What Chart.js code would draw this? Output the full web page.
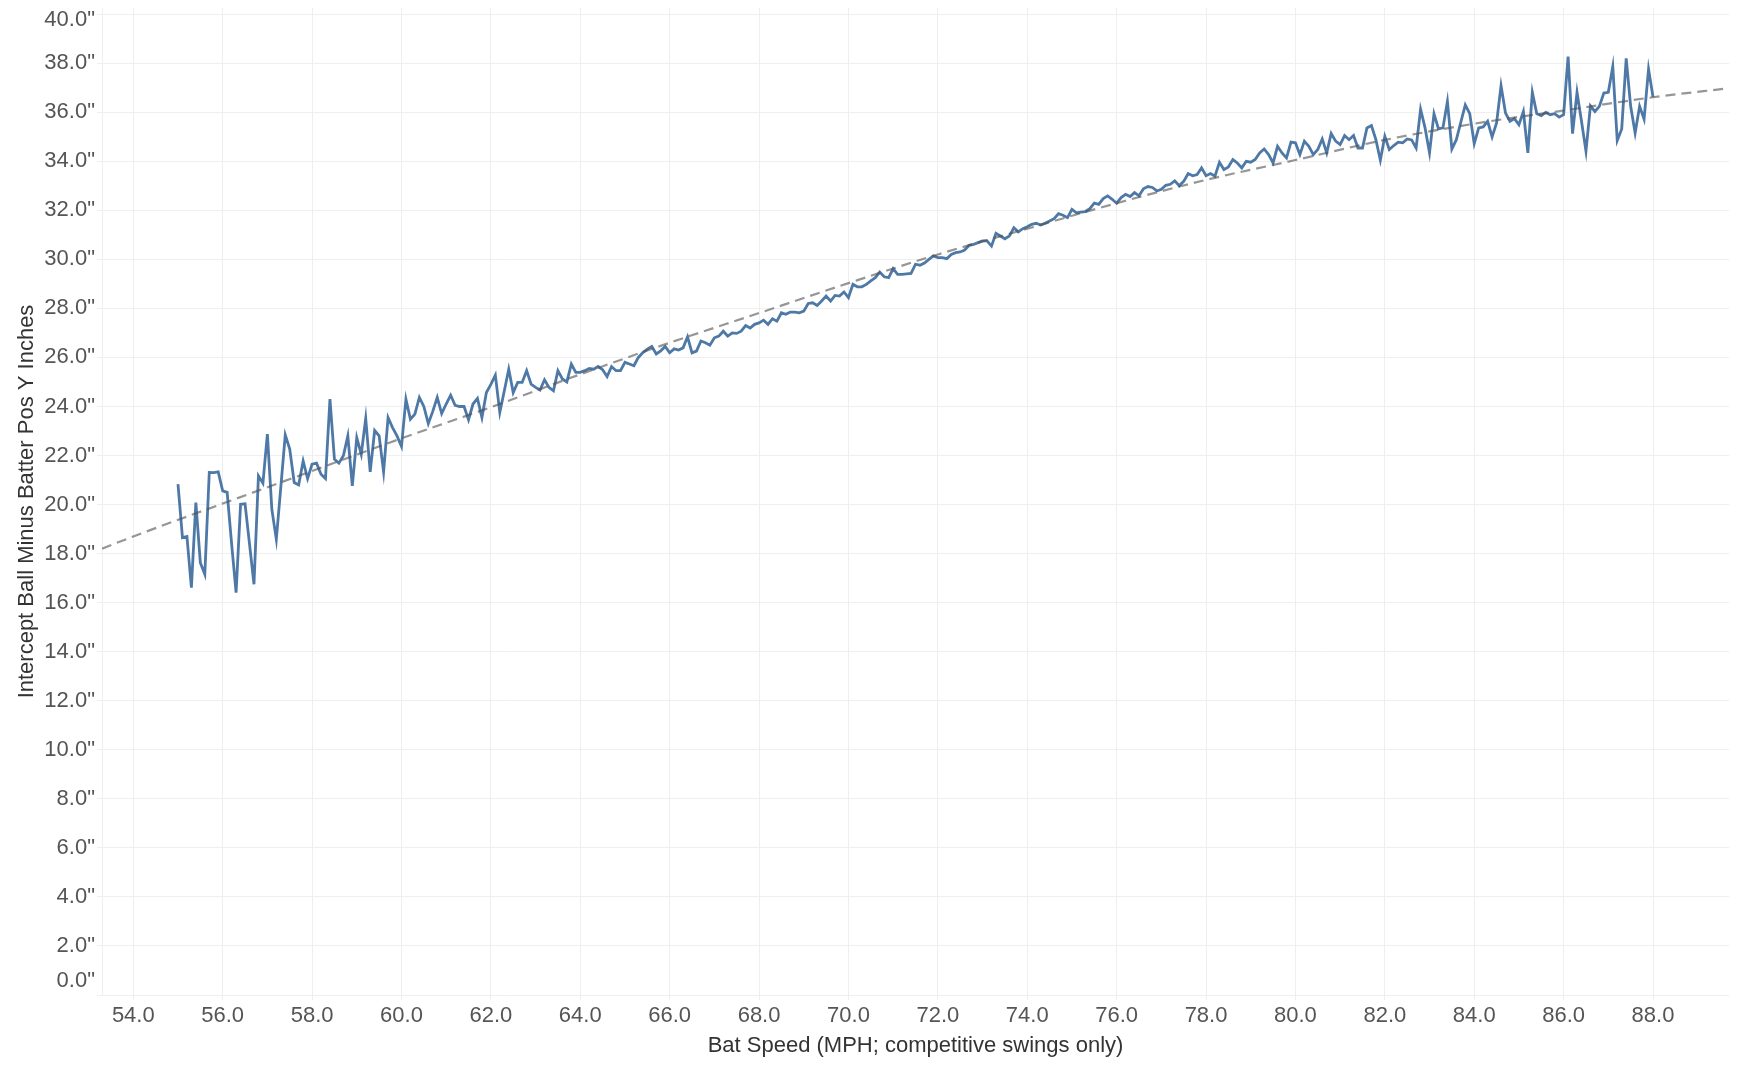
<!DOCTYPE html>
<html lang="en">
<head>
<meta charset="utf-8">
<title>Intercept Y by Bat Speed</title>
<script src="https://cdn.jsdelivr.net/npm/chart.js@4.4.1/dist/chart.umd.min.js"></script>
<style>
    html, body { margin: 0; padding: 0; background: #ffffff; }
    #chart-wrap { width: 1737px; height: 1068px; }
</style>
</head>
<body>
<div id="chart-wrap"><canvas id="intercept-chart" width="1737" height="1068"></canvas></div>
<script>
// Bat speed bins (MPH), one per 0.1 mph
const batSpeed = [
    55.0, 55.1, 55.2, 55.3, 55.4, 55.5, 55.6, 55.7, 55.8, 55.9,
    56.0, 56.1, 56.2, 56.3, 56.4, 56.5, 56.6, 56.7, 56.8, 56.9,
    57.0, 57.1, 57.2, 57.3, 57.4, 57.5, 57.6, 57.7, 57.8, 57.9,
    58.0, 58.1, 58.2, 58.3, 58.4, 58.5, 58.6, 58.7, 58.8, 58.9,
    59.0, 59.1, 59.2, 59.3, 59.4, 59.5, 59.6, 59.7, 59.8, 59.9,
    60.0, 60.1, 60.2, 60.3, 60.4, 60.5, 60.6, 60.7, 60.8, 60.9,
    61.0, 61.1, 61.2, 61.3, 61.4, 61.5, 61.6, 61.7, 61.8, 61.9,
    62.0, 62.1, 62.2, 62.3, 62.4, 62.5, 62.6, 62.7, 62.8, 62.9,
    63.0, 63.1, 63.2, 63.3, 63.4, 63.5, 63.6, 63.7, 63.8, 63.9,
    64.0, 64.1, 64.2, 64.3, 64.4, 64.5, 64.6, 64.7, 64.8, 64.9,
    65.0, 65.1, 65.2, 65.3, 65.4, 65.5, 65.6, 65.7, 65.8, 65.9,
    66.0, 66.1, 66.2, 66.3, 66.4, 66.5, 66.6, 66.7, 66.8, 66.9,
    67.0, 67.1, 67.2, 67.3, 67.4, 67.5, 67.6, 67.7, 67.8, 67.9,
    68.0, 68.1, 68.2, 68.3, 68.4, 68.5, 68.6, 68.7, 68.8, 68.9,
    69.0, 69.1, 69.2, 69.3, 69.4, 69.5, 69.6, 69.7, 69.8, 69.9,
    70.0, 70.1, 70.2, 70.3, 70.4, 70.5, 70.6, 70.7, 70.8, 70.9,
    71.0, 71.1, 71.2, 71.3, 71.4, 71.5, 71.6, 71.7, 71.8, 71.9,
    72.0, 72.1, 72.2, 72.3, 72.4, 72.5, 72.6, 72.7, 72.8, 72.9,
    73.0, 73.1, 73.2, 73.3, 73.4, 73.5, 73.6, 73.7, 73.8, 73.9,
    74.0, 74.1, 74.2, 74.3, 74.4, 74.5, 74.6, 74.7, 74.8, 74.9,
    75.0, 75.1, 75.2, 75.3, 75.4, 75.5, 75.6, 75.7, 75.8, 75.9,
    76.0, 76.1, 76.2, 76.3, 76.4, 76.5, 76.6, 76.7, 76.8, 76.9,
    77.0, 77.1, 77.2, 77.3, 77.4, 77.5, 77.6, 77.7, 77.8, 77.9,
    78.0, 78.1, 78.2, 78.3, 78.4, 78.5, 78.6, 78.7, 78.8, 78.9,
    79.0, 79.1, 79.2, 79.3, 79.4, 79.5, 79.6, 79.7, 79.8, 79.9,
    80.0, 80.1, 80.2, 80.3, 80.4, 80.5, 80.6, 80.7, 80.8, 80.9,
    81.0, 81.1, 81.2, 81.3, 81.4, 81.5, 81.6, 81.7, 81.8, 81.9,
    82.0, 82.1, 82.2, 82.3, 82.4, 82.5, 82.6, 82.7, 82.8, 82.9,
    83.0, 83.1, 83.2, 83.3, 83.4, 83.5, 83.6, 83.7, 83.8, 83.9,
    84.0, 84.1, 84.2, 84.3, 84.4, 84.5, 84.6, 84.7, 84.8, 84.9,
    85.0, 85.1, 85.2, 85.3, 85.4, 85.5, 85.6, 85.7, 85.8, 85.9,
    86.0, 86.1, 86.2, 86.3, 86.4, 86.5, 86.6, 86.7, 86.8, 86.9,
    87.0, 87.1, 87.2, 87.3, 87.4, 87.5, 87.6, 87.7, 87.8, 87.9,
    88.0
];

// Average intercept (ball minus batter pos Y, inches) per bin
const interceptY = [
    20.83, 18.65, 18.7, 16.61, 20.08, 17.63, 17.16, 21.31, 21.3, 21.33,
    20.56, 20.5, 18.4, 16.41, 20.01, 20.03, 18.4, 16.75, 21.17, 20.87,
    22.87, 19.8, 18.58, 20.7, 22.84, 22.26, 20.9, 20.8, 21.78, 21.06,
    21.65, 21.69, 21.24, 21.06, 24.3, 21.85, 21.69, 21.99, 22.8, 20.76,
    22.73, 22.05, 23.51, 21.33, 23.02, 22.8, 21.33, 23.55, 23.14, 22.8,
    22.37, 24.3, 23.48, 23.69, 24.37, 24.0, 23.3, 23.8, 24.37, 23.71,
    24.1, 24.46, 24.05, 24.0, 24.0, 23.46, 24.1, 24.33, 23.55, 24.57,
    24.9, 25.28, 23.76, 24.63, 25.52, 24.57, 24.98, 24.98, 25.46, 24.91,
    24.78, 24.67, 25.09, 24.78, 24.64, 25.46, 25.12, 25.0, 25.73, 25.39,
    25.39, 25.46, 25.55, 25.52, 25.63, 25.5, 25.22, 25.63, 25.46, 25.46,
    25.8, 25.73, 25.66, 26.0, 26.2, 26.34, 26.45, 26.14, 26.27, 26.45,
    26.19, 26.35, 26.3, 26.39, 26.84, 26.19, 26.26, 26.67, 26.6, 26.5,
    26.8, 26.87, 27.07, 26.87, 27.0, 26.98, 27.07, 27.3, 27.2, 27.35,
    27.41, 27.52, 27.35, 27.58, 27.48, 27.82, 27.76, 27.85, 27.85, 27.82,
    27.89, 28.2, 28.23, 28.12, 28.3, 28.5, 28.3, 28.53, 28.5, 28.67,
    28.44, 28.98, 28.88, 28.88, 28.98, 29.12, 29.25, 29.48, 29.29, 29.25,
    29.62, 29.39, 29.39, 29.41, 29.43, 29.8, 29.76, 29.85, 30.0, 30.14,
    30.07, 30.07, 30.03, 30.2, 30.27, 30.3, 30.38, 30.57, 30.61, 30.68,
    30.75, 30.75, 30.54, 31.06, 30.95, 30.84, 30.95, 31.29, 31.12, 31.25,
    31.33, 31.43, 31.47, 31.4, 31.47, 31.56, 31.66, 31.86, 31.8, 31.7,
    32.04, 31.9, 31.93, 31.95, 32.07, 32.29, 32.24, 32.48, 32.59, 32.45,
    32.29, 32.52, 32.65, 32.56, 32.72, 32.59, 32.88, 32.97, 32.93, 32.79,
    32.86, 33.02, 33.06, 33.2, 33.0, 33.18, 33.5, 33.41, 33.46, 33.73,
    33.41, 33.5, 33.39, 33.96, 33.66, 33.77, 34.07, 33.93, 33.73, 34.0,
    33.96, 34.07, 34.34, 34.5, 34.27, 33.93, 34.61, 34.34, 34.14, 34.78,
    34.75, 34.27, 34.82, 34.61, 34.27, 34.48, 34.91, 34.34, 35.13, 34.82,
    34.68, 35.05, 34.88, 35.05, 34.54, 34.54, 35.36, 35.46, 34.88, 34.04,
    35.02, 34.48, 34.64, 34.78, 34.75, 34.91, 34.87, 34.54, 36.12, 35.36,
    34.34, 35.94, 35.32, 35.36, 36.44, 34.5, 34.88, 35.59, 36.3, 35.94,
    34.72, 35.36, 35.4, 35.63, 34.99, 35.56, 37.08, 35.97, 35.63, 35.74,
    35.49, 36.03, 34.34, 36.81, 35.94, 35.86, 35.99, 35.9, 35.94, 35.8,
    35.9, 38.27, 35.13, 36.81, 35.63, 34.41, 36.26, 36.03, 36.24, 36.78,
    36.81, 37.86, 34.85, 35.32, 38.2, 36.24, 35.15, 36.24, 35.72, 37.76,
    36.62
];

// Trend line
const trendSpeed = [53.3, 54, 56, 58, 60, 62, 64, 66, 68, 70, 72, 74, 76, 78, 80, 82, 84, 86, 88, 89.7];
const trendY = [18.2, 18.7, 20.04, 21.37, 22.7, 23.97, 25.31, 26.6, 27.81, 29.03, 30.2, 31.25, 32.29, 33.24, 34.05, 34.87, 35.53, 36.07, 36.61, 36.98];

// Axis ticks
const xTicks = [54, 56, 58, 60, 62, 64, 66, 68, 70, 72, 74, 76, 78, 80, 82, 84, 86, 88];
const yTicks = [0, 2, 4, 6, 8, 10, 12, 14, 16, 18, 20, 22, 24, 26, 28, 30, 32, 34, 36, 38, 40];

const fontFamily = '"Liberation Sans", Arial, sans-serif';
const gridColor = '#efefef';

document.addEventListener('DOMContentLoaded', function() {
    initChart();
});

/**
 * Y tick font: the end labels get an odd line height so they
 * sit inside the axis, the way the original tool draws them
 */
function yTickFont(context) {
    const tick = context.tick || {};
    let lineHeight = 1.2;
    if (tick.value === 40) lineHeight = '12px';
    if (tick.value === 0) lineHeight = '28px';
    return { family: fontFamily, size: 22, lineHeight: lineHeight };
}

/**
 * Build the line chart with the trend curve on top
 */
function initChart() {
    const ctx = document.getElementById('intercept-chart');

    const lineData = batSpeed.map((x, i) => ({ x: x, y: interceptY[i] }));
    const trendData = trendSpeed.map((x, i) => ({ x: x, y: trendY[i] }));

    new Chart(ctx, {
        type: 'line',
        data: {
            datasets: [{
                label: 'Trend',
                data: trendData,
                borderColor: 'rgba(80, 80, 80, 0.6)',
                borderWidth: 2.2,
                borderDash: [10, 6],
                pointRadius: 0,
                cubicInterpolationMode: 'monotone',
                fill: false,
                order: 0
            }, {
                label: 'Intercept',
                data: lineData,
                borderColor: '#4e79a7',
                borderWidth: 2.8,
                pointRadius: 0,
                tension: 0,
                fill: false,
                order: 1
            }]
        },
        options: {
            responsive: false,
            animation: false,
            layout: {
                padding: { top: 8, right: 8, left: 0, bottom: 0 }
            },
            plugins: {
                legend: { display: false },
                tooltip: { enabled: false }
            },
            scales: {
                x: {
                    type: 'linear',
                    min: 53.3,
                    max: 89.7,
                    afterBuildTicks: function(scale) {
                        scale.ticks = xTicks.map(v => ({ value: v }));
                    },
                    afterFit: function(scale) {
                        scale.height = 73;
                        scale.paddingLeft = 0;
                        scale.paddingRight = 0;
                    },
                    grid: {
                        color: gridColor,
                        lineWidth: 1,
                        tickLength: 5
                    },
                    border: { display: false },
                    ticks: {
                        color: '#555555',
                        padding: 3,
                        autoSkip: false,
                        maxRotation: 0,
                        font: { family: fontFamily, size: 22 },
                        callback: function(value) {
                            return Number(value).toFixed(1);
                        }
                    },
                    title: {
                        display: true,
                        text: 'Bat Speed (MPH; competitive swings only)',
                        color: '#333333',
                        padding: { top: 0, bottom: 9 },
                        font: { family: fontFamily, size: 22 }
                    }
                },
                y: {
                    type: 'linear',
                    min: 0,
                    max: 40.25,
                    afterBuildTicks: function(scale) {
                        scale.ticks = yTicks.map(v => ({ value: v }));
                    },
                    afterFit: function(scale) {
                        scale.width = 102;
                        scale.paddingTop = 0;
                        scale.paddingBottom = 0;
                    },
                    grid: {
                        color: gridColor,
                        lineWidth: 1,
                        tickLength: 5
                    },
                    border: { display: true, color: gridColor },
                    ticks: {
                        color: '#555555',
                        padding: 2,
                        autoSkip: false,
                        font: yTickFont,
                        callback: function(value) {
                            const text = Number(value).toFixed(1) + '"';
                            if (value === 40) return ['', text];
                            if (value === 0) return [text, ''];
                            return text;
                        }
                    },
                    title: {
                        display: true,
                        text: 'Intercept Ball Minus Batter Pos Y Inches',
                        color: '#333333',
                        padding: { top: 14, bottom: 0 },
                        font: { family: fontFamily, size: 22 }
                    }
                }
            }
        }
    });
}
</script>
</body>
</html>
